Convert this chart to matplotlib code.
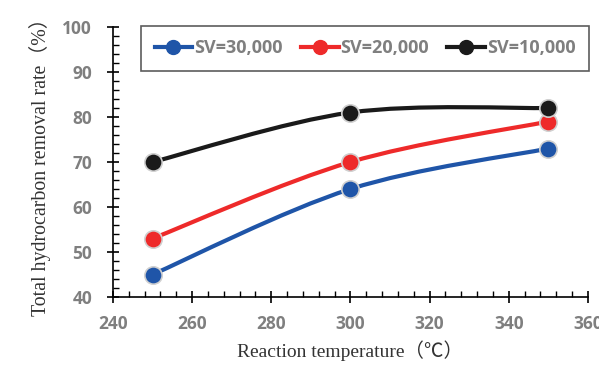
import matplotlib.pyplot as plt
import numpy as np
from matplotlib.path import Path
from matplotlib.patches import PathPatch
from matplotlib.lines import Line2D
from matplotlib.ticker import MultipleLocator

temps = [250, 300, 350]
sv30 = [45, 64, 73]
sv20 = [53, 70, 79]
sv10 = [70, 81, 82]
labels = ["SV=30,000", "SV=20,000", "SV=10,000"]
colors = ["#1f55a8", "#ee2a2a", "#1a1a1a"]

tick_font = "Open Sans"
gray = "#7f7f7f"


def smooth_path(xs, ys):
    # cubic bezier through the points, like a spreadsheet "smoothed line"
    pts = np.column_stack([xs, ys]).astype(float)
    p = np.vstack([pts[0], pts, pts[-1]])
    verts = [tuple(pts[0])]
    codes = [Path.MOVETO]
    for i in range(1, len(p) - 2):
        c1 = p[i] + (p[i + 1] - p[i - 1]) / 6
        c2 = p[i + 1] - (p[i + 2] - p[i]) / 6
        verts += [tuple(c1), tuple(c2), tuple(p[i + 1])]
        codes += [Path.CURVE4] * 3
    return Path(verts, codes)


fig = plt.figure(figsize=(5.99, 3.65), dpi=100)
ax = fig.add_axes([0.1886, 0.1863, 0.793, 0.7397])

for ys, c, lab in zip([sv30, sv20, sv10], colors, labels):
    ax.add_patch(PathPatch(smooth_path(temps, ys), facecolor="none",
                           edgecolor=c, lw=3, zorder=2))
    ax.plot(temps, ys, "o", color=c, ms=12.5, mec="#d0d0d0", mew=1.2, zorder=3)

ax.set_xlim(240, 360)
ax.set_ylim(40, 100)
ax.xaxis.set_major_locator(MultipleLocator(20))
ax.xaxis.set_minor_locator(MultipleLocator(4))
ax.yaxis.set_major_locator(MultipleLocator(10))
ax.yaxis.set_minor_locator(MultipleLocator(2))
for s in ["top", "right"]:
    ax.spines[s].set_visible(False)
for s in ["left", "bottom"]:
    ax.spines[s].set_linewidth(1.2)
ax.tick_params(which="major", direction="inout", length=8, width=1.2)
ax.tick_params(which="minor", direction="in", length=4, width=1)
ax.tick_params(axis="x", pad=9)
ax.tick_params(axis="y", pad=11)
for t in ax.get_xticklabels() + ax.get_yticklabels():
    t.set_fontfamily(tick_font)
    t.set_fontweight("bold")
    t.set_color(gray)
    t.set_fontsize(12.5)

ax.set_xlabel("Reaction temperature（℃）", fontsize=14,
              family=["Liberation Serif", "Noto Sans CJK JP"], color="#333333",
              labelpad=5)
ax.set_ylabel("Total hydrocarbon removal rate（%）", fontsize=14.3,
              family=["Liberation Serif", "Noto Sans CJK JP"], color="#333333",
              labelpad=8)

handles = [Line2D([], [], color=c, lw=3, marker="o", ms=10) for c in colors]
leg = ax.legend(handles, labels, ncol=3, loc="upper left",
                bbox_to_anchor=(0.059, 1.005), borderaxespad=0,
                frameon=True, fancybox=False,
                handlelength=2.1, handletextpad=0.1, columnspacing=1.0,
                borderpad=0.75,
                prop={"family": tick_font, "weight": "bold", "size": 13})
leg.get_frame().set_edgecolor("#333333")
leg.get_frame().set_linewidth(1.2)
for t in leg.get_texts():
    t.set_color(gray)

fig.savefig("out.png", dpi=100)
